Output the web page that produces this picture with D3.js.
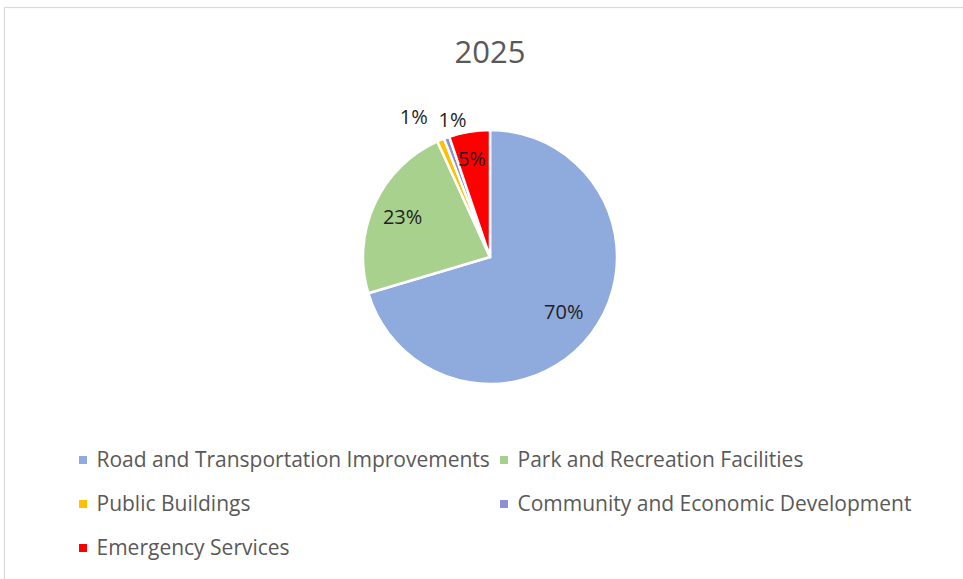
<!DOCTYPE html>
<html>
<head>
<meta charset="utf-8">
<script src="https://cdn.jsdelivr.net/npm/d3@7"></script>
<style>
  html, body { margin: 0; padding: 0; background: #fff; }
  svg { display: block; }
</style>
</head>
<body>
<svg id="chart" width="963" height="579"></svg>
<script>
const title = "2025";
const categories = [
  "Road and Transportation Improvements",
  "Park and Recreation Facilities",
  "Public Buildings",
  "Community and Economic Development",
  "Emergency Services"
];
const values = [70.4, 22.8, 0.9, 0.7, 5.2];
const colors = ["#8FAADC", "#A9D18E", "#FFC000", "#8E8FD6", "#FF0000"];

const svg = d3.select("#chart");
const font = "'Open Sans', 'Noto Sans', sans-serif";

// chart frame
svg.append("rect")
  .attr("x", 4.5).attr("y", 7.5)
  .attr("width", 1000).attr("height", 1000)
  .attr("fill", "#fff").attr("stroke", "#D9D9D9").attr("stroke-width", 1.2);

// title
svg.append("text")
  .attr("x", 490).attr("y", 63)
  .attr("text-anchor", "middle")
  .attr("font-family", font).attr("font-size", 31)
  .attr("fill", "#595959")
  .text(title);

const cx = 490, cy = 257, R = 127;
const data = categories.map((c, i) => ({ name: c, value: values[i], color: colors[i] }));
const pie = d3.pie().sort(null).value(d => d.value);
const arcs = pie(data);
const arc = d3.arc().innerRadius(0).outerRadius(R);

const g = svg.append("g").attr("transform", `translate(${cx},${cy})`);
g.selectAll("path").data(arcs).enter().append("path")
  .attr("d", arc)
  .attr("fill", d => d.data.color)
  .attr("stroke", "#fff").attr("stroke-width", 2.5).attr("stroke-linejoin", "round");

// data labels
const labelR = [92, 96, 155, 145, 99];
const labelDx = [0, 0, -16, 12, -2];
const labelDy = [0, 0, 3, -1, 0];
g.selectAll("text.lbl").data(arcs).enter().append("text")
  .attr("class", "lbl")
  .attr("transform", (d, i) => {
    const a = (d.startAngle + d.endAngle) / 2;
    const x = Math.sin(a) * labelR[i] + labelDx[i];
    const y = -Math.cos(a) * labelR[i] + labelDy[i];
    return `translate(${x},${y})`;
  })
  .attr("text-anchor", "middle").attr("dy", "0.35em")
  .attr("font-family", font).attr("font-size", 20)
  .attr("fill", "#1F1F1F")
  .text(d => Math.round(d.data.value) + "%");

// legend
const legendPos = [
  { x: 79, y: 467 }, { x: 500, y: 467 },
  { x: 79, y: 511 }, { x: 500, y: 511 },
  { x: 79, y: 555 }
];
const lg = svg.append("g");
data.forEach((d, i) => {
  const p = legendPos[i];
  lg.append("rect")
    .attr("x", p.x).attr("y", p.y - 11)
    .attr("width", 8).attr("height", 8)
    .attr("fill", d.color);
  lg.append("text")
    .attr("x", p.x + 17.5).attr("y", p.y)
    .attr("font-family", font).attr("font-size", 21)
    .attr("fill", "#595959")
    .text(d.name);
});
</script>
</body>
</html>
